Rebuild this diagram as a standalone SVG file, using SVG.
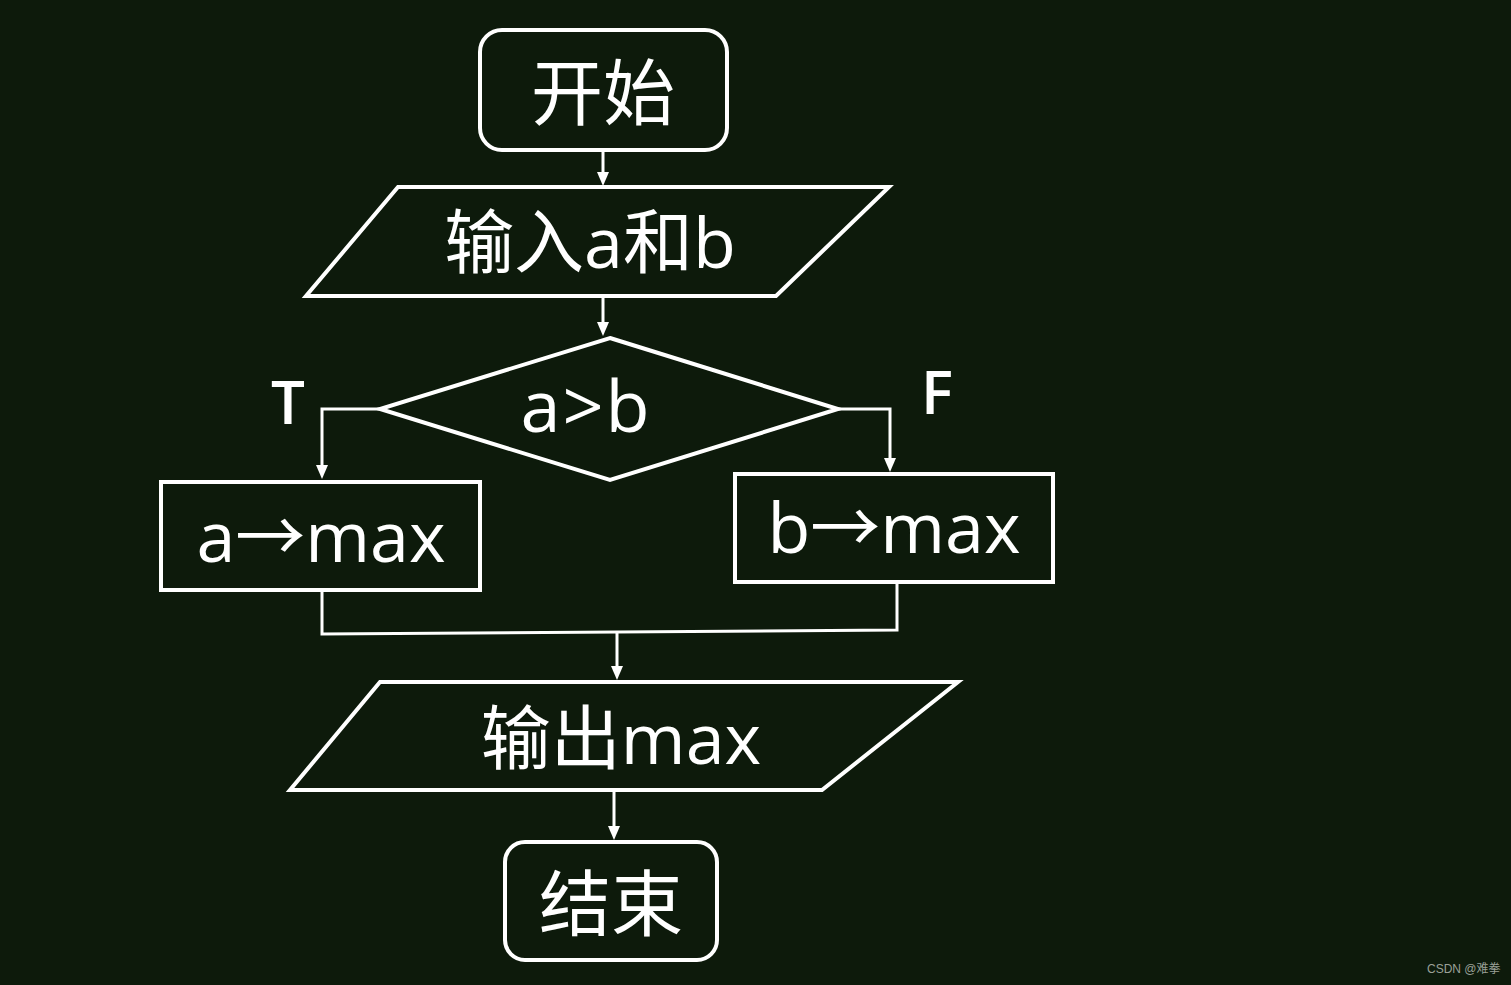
<svg xmlns="http://www.w3.org/2000/svg" width="1511" height="985" viewBox="0 0 1511 985">
<defs>
<style>
.shape{fill:none;stroke:#ffffff;stroke-width:4;stroke-linejoin:miter}
.conn{fill:none;stroke:#ffffff;stroke-width:3}
.head{fill:#ffffff}
.lbl{fill:#ffffff;font-family:"Open Sans","Noto Sans CJK SC",sans-serif;text-anchor:middle}
.tf{fill:#ffffff;font-family:"Open Sans","Noto Sans CJK SC",sans-serif;font-size:60px;font-weight:600;text-anchor:middle}
</style>
</defs>
<rect width="1511" height="985" fill="#0d1a0b"/>
<g id="connectors">
<line class="conn" x1="603" y1="150" x2="603" y2="172"/>
<path class="head" d="M597,172 L609,172 L603,186 Z"/>
<line class="conn" x1="603" y1="296" x2="603" y2="322"/>
<path class="head" d="M597,322 L609,322 L603,336 Z"/>
<polyline class="conn" points="380,409 322,409 322,465"/>
<path class="head" d="M316,465 L328,465 L322,479 Z"/>
<polyline class="conn" points="838,409 890,409 890,458"/>
<path class="head" d="M884,458 L896,458 L890,472 Z"/>
<polyline class="conn" points="322,590 322,634 897,630 897,582"/>
<line class="conn" x1="617" y1="632" x2="617" y2="666"/>
<path class="head" d="M611,666 L623,666 L617,680 Z"/>
<line class="conn" x1="614" y1="790" x2="614" y2="826"/>
<path class="head" d="M608,826 L620,826 L614,840 Z"/>
</g>
<g id="start">
<rect class="shape" x="480" y="30" width="247" height="120" rx="22"/>
<text class="lbl" x="603" y="119" font-size="72">开始</text>
</g>
<g id="input">
<polygon class="shape" points="398,187 889,187 776,296 306,296"/>
<text class="lbl" x="590" y="268" font-size="70">输入a和b</text>
</g>
<g id="decision">
<polygon class="shape" points="610,338 838,409 610,480 380,409"/>
<text class="lbl" x="586" y="432" font-size="72" letter-spacing="2">a&gt;b</text>
</g>
<g id="labelT"><text class="tf" x="288" y="424">T</text></g>
<g id="labelF"><text class="tf" x="937" y="414">F</text></g>
<g id="amax">
<rect class="shape" x="161" y="482" width="319" height="108"/>
<text class="lbl" x="321" y="562" font-size="70">a→max</text>
</g>
<g id="bmax">
<rect class="shape" x="735" y="474" width="318" height="108"/>
<text class="lbl" x="894" y="553" font-size="70">b→max</text>
</g>
<g id="output">
<polygon class="shape" points="380,682 958,682 822,790 290,790"/>
<text class="lbl" x="621" y="764" font-size="70">输出max</text>
</g>
<g id="end">
<rect class="shape" x="505" y="842" width="212" height="118" rx="20"/>
<text class="lbl" x="611" y="930" font-size="72">结束</text>
</g>
<text x="1427" y="973" font-family="Liberation Sans,'Noto Sans CJK SC',sans-serif" font-size="12" fill="#9aa097">CSDN @难拳</text>
</svg>
